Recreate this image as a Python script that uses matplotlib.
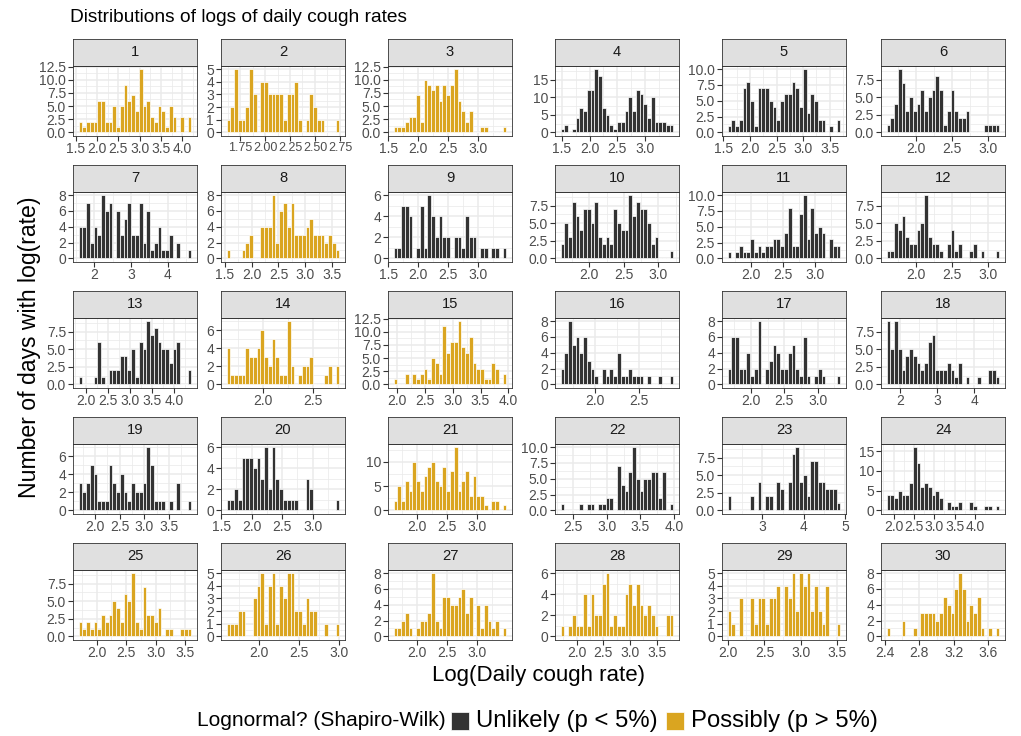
import numpy as np
import matplotlib
matplotlib.use("Agg")
import matplotlib.pyplot as plt
from matplotlib.patches import Rectangle

plt.rcParams['font.family'] = ['Liberation Sans', 'DejaVu Sans']

# ---------------- data ----------------
panel_labels = [str(i) for i in range(1, 31)]

# True -> "Possibly (p > 5%)", False -> "Unlikely (p < 5%)"
possibly_lognormal = [True, True, True, False, False, False,
                      False, True, False, False, False, False,
                      False, True, True, False, False, False,
                      False, False, True, False, False, False,
                      True, True, True, True, True, True]

# histogram extent (left edge of first bin, right edge of last bin), 30 bins each
x_lo = [1.57, 1.616, 1.589, 1.48, 1.58, 1.593,
        1.572, 1.53, 1.589, 1.584, 1.634, 1.593,
        1.83, 1.633, 1.933, 1.609, 1.649, 1.64,
        1.667, 1.59, 1.615, 2.31, 2.16, 1.83,
        1.693, 1.595, 1.615, 1.698, 1.99, 2.42]
x_hi = [4.21, 2.744, 3.48, 3.51, 3.70, 3.153,
        4.646, 3.64, 3.48, 3.219, 3.397, 3.153,
        4.395, 2.761, 3.966, 2.891, 3.34, 4.67,
        3.955, 3.44, 3.495, 3.99, 4.89, 4.6,
        3.605, 3.005, 3.495, 3.814, 3.55, 3.73]

counts_1 = [2, 1, 2, 2, 2, 6, 6, 2, 2, 5, 1, 5, 9, 6, 7, 4, 12, 5, 6, 3, 2, 5, 4, 1, 5, 3, 0, 3, 0, 3]
counts_2 = [1, 2, 5, 1, 1, 2, 5, 3, 0, 4, 4, 3, 3, 3, 3, 1, 3, 3, 4, 1, 0, 1, 3, 2, 1, 1, 0, 0, 0, 1]
counts_3 = [1, 1, 1, 2, 3, 3, 7, 2, 10, 9, 8, 9, 6, 9, 7, 9, 12, 6, 4, 2, 4, 0, 0, 1, 1, 0, 0, 0, 0, 1]
counts_4 = [1, 2, 0, 1, 4, 7, 6, 12, 12, 18, 16, 7, 5, 2, 1, 3, 3, 6, 10, 6, 12, 11, 8, 4, 10, 3, 3, 3, 2, 2]
counts_5 = [1, 2, 1, 2, 7, 8, 5, 1, 7, 7, 7, 5, 4, 2, 5, 6, 6, 8, 7, 4, 10, 3, 6, 5, 2, 2, 0, 1, 0, 2]
counts_6 = [1, 2, 4, 9, 7, 3, 5, 3, 4, 6, 3, 5, 6, 8, 6, 1, 3, 6, 3, 2, 2, 3, 0, 0, 0, 0, 1, 1, 1, 1]
counts_7 = [4, 4, 7, 2, 4, 3, 8, 6, 7, 0, 6, 3, 5, 7, 3, 3, 7, 2, 6, 1, 2, 4, 1, 1, 3, 0, 2, 0, 0, 1]
counts_8 = [1, 0, 0, 0, 1, 2, 3, 0, 0, 4, 4, 4, 8, 2, 6, 7, 4, 7, 3, 3, 3, 4, 5, 3, 3, 3, 2, 3, 2, 1]
counts_9 = [1, 1, 5, 5, 4, 0, 1, 5, 1, 6, 4, 2, 4, 2, 2, 0, 2, 2, 1, 4, 2, 2, 0, 1, 1, 0, 1, 1, 0, 1]
counts_10 = [2, 5, 3, 8, 6, 4, 7, 7, 5, 8, 3, 2, 3, 2, 7, 5, 4, 4, 9, 6, 8, 7, 7, 5, 2, 3, 0, 0, 0, 1]
counts_11 = [1, 0, 1, 2, 1, 1, 3, 1, 2, 1, 2, 2, 3, 3, 2, 4, 8, 2, 2, 7, 10, 3, 8, 4, 5, 4, 0, 3, 2, 2]
counts_12 = [1, 1, 5, 4, 6, 3, 2, 2, 4, 5, 9, 3, 2, 2, 1, 0, 2, 4, 1, 2, 0, 0, 1, 2, 0, 1, 0, 0, 0, 1]
counts_13 = [1, 0, 0, 0, 1, 6, 1, 0, 2, 2, 2, 4, 4, 2, 5, 1, 6, 5, 9, 7, 8, 6, 5, 5, 3, 5, 6, 0, 0, 2]
counts_14 = [4, 1, 1, 1, 1, 4, 3, 3, 4, 6, 3, 2, 5, 3, 1, 1, 7, 2, 0, 1, 2, 2, 3, 0, 0, 0, 1, 2, 0, 2]
counts_15 = [1, 0, 0, 2, 0, 2, 1, 2, 3, 1, 5, 4, 2, 11, 6, 8, 8, 12, 7, 6, 9, 4, 3, 3, 1, 1, 4, 3, 0, 2]
counts_16 = [2, 4, 8, 5, 6, 4, 6, 3, 2, 1, 0, 2, 1, 2, 1, 4, 1, 1, 2, 1, 1, 1, 0, 1, 0, 0, 1, 0, 0, 1]
counts_17 = [2, 6, 6, 2, 2, 4, 1, 2, 8, 0, 2, 3, 5, 4, 2, 2, 4, 5, 2, 1, 6, 1, 0, 1, 2, 1, 0, 0, 0, 1]
counts_18 = [9, 5, 9, 5, 2, 4, 5, 4, 3, 2, 3, 6, 7, 2, 2, 2, 3, 2, 1, 3, 0, 1, 0, 0, 1, 0, 0, 2, 2, 1]
counts_19 = [3, 2, 3, 5, 4, 1, 1, 1, 5, 3, 2, 4, 2, 1, 3, 2, 2, 3, 7, 5, 1, 1, 1, 0, 1, 0, 3, 0, 0, 1]
counts_20 = [1, 1, 2, 1, 5, 5, 5, 4, 5, 3, 6, 2, 6, 3, 2, 1, 1, 1, 1, 0, 0, 3, 2, 0, 0, 0, 0, 0, 0, 1]
counts_21 = [2, 5, 2, 6, 4, 10, 6, 4, 7, 9, 10, 6, 5, 9, 4, 8, 13, 4, 6, 8, 3, 7, 3, 3, 1, 0, 2, 2, 0, 1]
counts_22 = [1, 0, 0, 0, 0, 1, 0, 1, 1, 0, 1, 1, 2, 2, 0, 7, 4, 3, 6, 10, 5, 3, 5, 5, 6, 6, 2, 6, 0, 1]
counts_23 = [2, 0, 0, 0, 0, 0, 2, 0, 4, 0, 2, 2, 0, 4, 3, 0, 4, 8, 9, 4, 5, 2, 7, 7, 4, 4, 3, 3, 3, 1]
counts_24 = [4, 4, 3, 5, 4, 4, 7, 16, 12, 6, 7, 6, 4, 5, 3, 0, 2, 1, 1, 2, 0, 0, 2, 1, 0, 0, 1, 1, 0, 1]
counts_25 = [2, 1, 2, 1, 2, 1, 3, 2, 3, 5, 4, 2, 6, 5, 9, 2, 1, 7, 3, 3, 2, 4, 0, 1, 1, 0, 0, 1, 1, 1]
counts_26 = [1, 1, 1, 2, 2, 0, 0, 3, 4, 5, 1, 4, 5, 1, 4, 3, 5, 5, 2, 2, 1, 3, 2, 2, 0, 0, 1, 0, 0, 1]
counts_27 = [1, 1, 2, 3, 1, 0, 1, 2, 2, 3, 8, 2, 1, 5, 5, 4, 4, 5, 6, 3, 5, 0, 4, 1, 4, 2, 1, 2, 0, 1]
counts_28 = [1, 0, 1, 2, 1, 1, 4, 1, 4, 2, 2, 5, 6, 1, 2, 1, 1, 4, 5, 3, 5, 3, 2, 3, 2, 1, 0, 0, 2, 2]
counts_29 = [2, 1, 0, 3, 0, 0, 3, 1, 3, 3, 1, 3, 3, 4, 0, 4, 3, 5, 2, 5, 4, 5, 2, 4, 2, 1, 4, 0, 0, 1]
counts_30 = [1, 0, 0, 0, 2, 0, 0, 1, 0, 3, 3, 3, 3, 2, 3, 5, 4, 3, 6, 8, 6, 2, 4, 3, 5, 1, 0, 1, 0, 1]

all_counts = [counts_1, counts_2, counts_3, counts_4, counts_5, counts_6,
              counts_7, counts_8, counts_9, counts_10, counts_11, counts_12,
              counts_13, counts_14, counts_15, counts_16, counts_17, counts_18,
              counts_19, counts_20, counts_21, counts_22, counts_23, counts_24,
              counts_25, counts_26, counts_27, counts_28, counts_29, counts_30]

# tick label sets
Y_0_12_5 = ["0.0", "2.5", "5.0", "7.5", "10.0", "12.5"]
Y_0_10 = ["0.0", "2.5", "5.0", "7.5", "10.0"]
Y_0_7_5 = ["0.0", "2.5", "5.0", "7.5"]
Y_INT5 = ["0", "1", "2", "3", "4", "5"]
Y_BY5_15 = ["0", "5", "10", "15"]
Y_BY5_10 = ["0", "5", "10"]
Y_BY2_8 = ["0", "2", "4", "6", "8"]
Y_BY2_6 = ["0", "2", "4", "6"]

y_tick_labels = [Y_0_12_5, Y_INT5, Y_0_12_5, Y_BY5_15, Y_0_10, Y_0_7_5,
                 Y_BY2_8, Y_BY2_8, Y_BY2_6, Y_0_7_5, Y_0_10, Y_0_7_5,
                 Y_0_7_5, Y_BY2_6, Y_0_12_5, Y_BY2_8, Y_BY2_8, Y_0_7_5,
                 Y_BY2_6, Y_BY2_6, Y_BY5_10, Y_0_10, Y_0_7_5, Y_BY5_15,
                 Y_0_7_5, Y_INT5, Y_BY2_8, Y_BY2_6, Y_INT5, Y_BY2_8]

x_tick_labels = [
    ["1.5", "2.0", "2.5", "3.0", "3.5", "4.0"],
    ["1.75", "2.00", "2.25", "2.50", "2.75"],
    ["1.5", "2.0", "2.5", "3.0"],
    ["1.5", "2.0", "2.5", "3.0"],
    ["1.5", "2.0", "2.5", "3.0", "3.5"],
    ["2.0", "2.5", "3.0"],
    ["2", "3", "4"],
    ["1.5", "2.0", "2.5", "3.0", "3.5"],
    ["1.5", "2.0", "2.5", "3.0"],
    ["2.0", "2.5", "3.0"],
    ["2.0", "2.5", "3.0"],
    ["2.0", "2.5", "3.0"],
    ["2.0", "2.5", "3.0", "3.5", "4.0"],
    ["2.0", "2.5"],
    ["2.0", "2.5", "3.0", "3.5", "4.0"],
    ["2.0", "2.5"],
    ["2.0", "2.5", "3.0"],
    ["2", "3", "4"],
    ["2.0", "2.5", "3.0", "3.5"],
    ["1.5", "2.0", "2.5", "3.0"],
    ["2.0", "2.5", "3.0"],
    ["2.5", "3.0", "3.5", "4.0"],
    ["3", "4", "5"],
    ["2.0", "2.5", "3.0", "3.5", "4.0"],
    ["2.0", "2.5", "3.0", "3.5"],
    ["2.0", "2.5", "3.0"],
    ["2.0", "2.5", "3.0"],
    ["2.0", "2.5", "3.0", "3.5"],
    ["2.0", "2.5", "3.0", "3.5"],
    ["2.4", "2.8", "3.2", "3.6"],
]

legend_title = "Lognormal? (Shapiro-Wilk)"
legend_labels = ["Unlikely (p < 5%)", "Possibly (p > 5%)"]
colors = {False: "#333333", True: "#DAA520"}

# ---------------- layout (pixels) ----------------
W, H = 1021, 736
col_left = [73, 221, 388, 555, 722, 881]
row_top = [66, 192, 318, 444, 570]
panel_w, panel_h = 124, 69.5
strip_h = 27

GRID = "#EBEBEB"
DARK = "#333333"
TICKTXT = "#4D4D4D"
TICK_SIZE = 10


def fx(px):
    return px / W


def fy(py):
    return 1 - py / H


def minor_breaks(major, lo, hi):
    major = np.asarray(major)
    if len(major) < 2:
        return []
    step = major[1] - major[0]
    ext = np.concatenate([[major[0] - step], major, [major[-1] + step]])
    mids = (ext[:-1] + ext[1:]) / 2
    return [m for m in mids if lo <= m <= hi]


fig = plt.figure(figsize=(W / 100, H / 100), dpi=100)

for i in range(30):
    r, c = divmod(i, 6)
    left, top = col_left[c], row_top[r]
    ax = fig.add_axes([fx(left), fy(top + panel_h), fx(panel_w), panel_h / H])

    lo, hi = x_lo[i], x_hi[i]
    edges = np.linspace(lo, hi, len(all_counts[i]) + 1)
    centers = (edges[:-1] + edges[1:]) / 2
    width = edges[1] - edges[0]
    cnt = np.asarray(all_counts[i])
    R = hi - lo
    xlim = (lo - 0.05 * R, hi + 0.05 * R)
    ymax = cnt.max()
    ylim = (-0.05 * ymax, 1.05 * ymax)

    ax.set_xlim(*xlim)
    ax.set_ylim(*ylim)

    xt = [float(s) for s in x_tick_labels[i]]
    yt = [float(s) for s in y_tick_labels[i]]
    for m in minor_breaks(xt, *xlim):
        ax.axvline(m, color=GRID, lw=0.55, zorder=0)
    for m in minor_breaks(yt, *ylim):
        ax.axhline(m, color=GRID, lw=0.55, zorder=0)
    for t in xt:
        ax.axvline(t, color=GRID, lw=1.1, zorder=0)
    for t in yt:
        ax.axhline(t, color=GRID, lw=1.1, zorder=0)

    ax.bar(centers, cnt, width=width, color=colors[possibly_lognormal[i]],
           edgecolor="white", linewidth=0.5, zorder=2)

    ax.set_xticks(xt)
    ax.set_yticks(yt)
    ax.set_yticklabels(y_tick_labels[i])
    # long labels in panel 2 are packed tightly, as in the reference
    xsize = 9 if max(len(s) for s in x_tick_labels[i]) > 3 else TICK_SIZE
    ax.set_xticklabels(x_tick_labels[i], fontsize=xsize)
    ax.tick_params(axis="both", length=3.5, width=0.8, color=DARK,
                   labelcolor=TICKTXT, pad=1.5)
    ax.tick_params(axis="y", labelsize=TICK_SIZE)
    for sp in ax.spines.values():
        sp.set_color(DARK)
        sp.set_linewidth(0.6)

    # strip
    sax = fig.add_axes([fx(left), fy(top), fx(panel_w), strip_h / H])
    sax.set_facecolor("#E0E0E0")
    sax.set_xticks([])
    sax.set_yticks([])
    for sp in sax.spines.values():
        sp.set_color(DARK)
        sp.set_linewidth(0.6)
    sax.text(0.5, 0.5, panel_labels[i], ha="center", va="center",
             fontsize=10.6, color="#1A1A1A", transform=sax.transAxes)

# titles
fig.text(fx(70), fy(18), "Distributions of logs of daily cough rates",
         ha="left", va="center", fontsize=13.8, color="black")
fig.text(fx(30), fy(347), "Number of days with log(rate)", rotation=90,
         ha="center", va="center", fontsize=16.6, color="black")
fig.text(fx(538), fy(676), "Log(Daily cough rate)",
         ha="center", va="center", fontsize=16, color="black")

# legend
fig.text(fx(197), fy(721), legend_title, ha="left", va="center",
         fontsize=15, color="black")
key_x = [451, 666]
for kx, lab, poss in zip(key_x, legend_labels, [False, True]):
    fig.patches.append(Rectangle((fx(kx), fy(730)), fx(18), 18 / H,
                                 transform=fig.transFigure,
                                 facecolor=colors[poss], edgecolor="white",
                                 linewidth=0.5))
    fig.text(fx(kx + 25), fy(721), lab, ha="left", va="center",
             fontsize=17.2, color="black")

fig.savefig("out.png", dpi=100)
